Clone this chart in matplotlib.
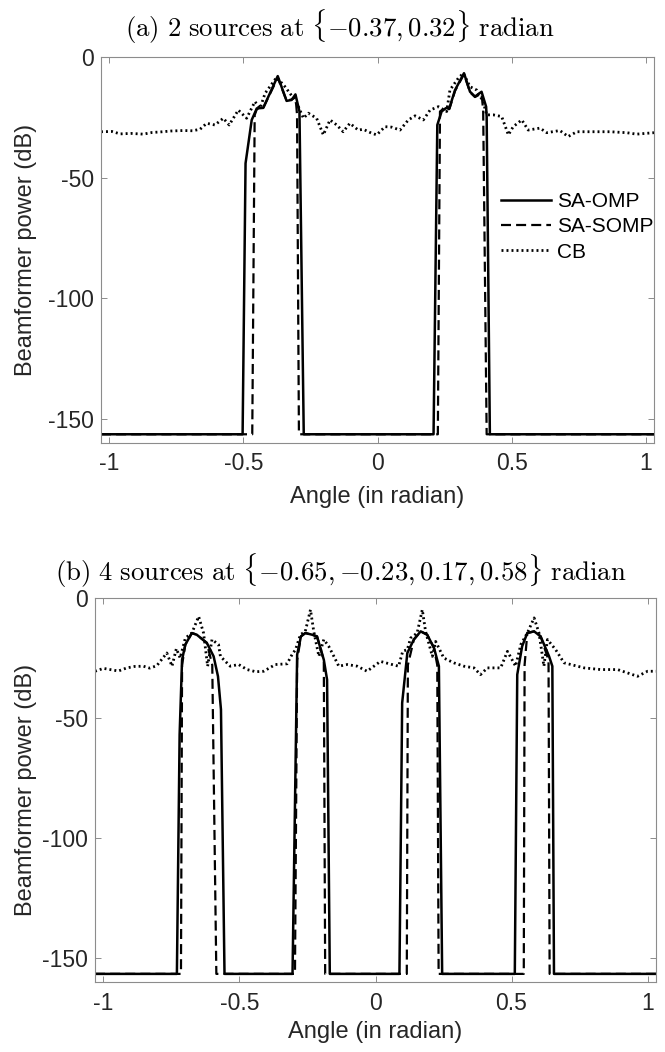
import numpy as np
import matplotlib
matplotlib.use("Agg")
import matplotlib.pyplot as plt

plt.rcParams["font.family"] = ["Liberation Sans", "DejaVu Sans"]
plt.rcParams["axes.unicode_minus"] = False
plt.rcParams["mathtext.fontset"] = "cm"

# ---------------- data: (a) 2 sources ----------------
a_omp_x = [-1.031, -0.503, -0.492, -0.469, -0.45, -0.426, -0.372, -0.339, -0.32, -0.306,
           -0.291, -0.275, 0.209, 0.223, 0.239, 0.255, 0.268, 0.289, 0.3225, 0.345,
           0.3635, 0.388, 0.405, 0.407, 0.419, 1.031]
a_omp_db = [-156.5, -156.5, -44, -26, -21.2, -21, -7.8, -18.1, -17.7, -15.4,
            -22.5, -156.5, -156.5, -28.1, -22.5, -21.1, -21.1, -13.6, -6.6, -14.3,
            -16.3, -14.3, -20.5, -24.6, -156.5, -156.5]

a_somp_x = [-1.031, -0.467, -0.458, -0.45, -0.426, -0.372, -0.339, -0.32, -0.306, -0.300,
            -0.293, 0.225, 0.233, 0.239, 0.255, 0.268, 0.289, 0.3225, 0.345, 0.3635,
            0.388, 0.394, 0.407, 1.031]
a_somp_db = [-156.5, -156.5, -24, -21.5, -21, -8.5, -18, -17.5, -16, -23.9,
             -156.5, -156.5, -22.5, -22, -21.5, -21.5, -14, -7, -14.5, -16.5,
             -15, -22, -156.5, -156.5]

a_cb_x = [-1.031, -0.99, -0.96, -0.92, -0.873, -0.84, -0.811, -0.77, -0.724, -0.69,
          -0.662, -0.637, -0.606, -0.575, -0.553, -0.519, -0.488, -0.457, -0.438, -0.419,
          -0.376, -0.345, -0.313, -0.295, -0.276, -0.258, -0.227, -0.202, -0.177, -0.152,
          -0.128, -0.103, -0.072, -0.053, -0.022, -0.003, 0.028, 0.053, 0.084, 0.115,
          0.14, 0.171, 0.196, 0.227, 0.258, 0.27, 0.301, 0.32, 0.345, 0.37,
          0.394, 0.407, 0.432, 0.463, 0.488, 0.506, 0.538, 0.562, 0.606, 0.631,
          0.68, 0.711, 0.743, 0.805, 0.867, 0.929, 0.966, 1.031]
a_cb_db = [-30.9, -30.8, -31.8, -31.6, -31.9, -31.2, -31, -30.6, -30.4, -30.5,
           -29.9, -27.4, -28.1, -25.3, -28.1, -21.9, -25.3, -18.4, -21.2, -14.9,
           -8.3, -12.2, -17, -20.5, -25.3, -23.2, -25.3, -32.2, -26, -28.1,
           -30.9, -27.4, -30.2, -29.9, -31.5, -32.2, -28.8, -29, -30.2, -26,
           -24.3, -26, -21.9, -20.5, -22.5, -13.6, -8.7, -6.6, -12.2, -13.6,
           -18.4, -23.9, -23.9, -24.6, -32.2, -28.8, -26, -30.2, -29.4, -31.3,
           -30.4, -32.9, -30.9, -30.9, -30.9, -31.3, -31.9, -31.3]

# ---------------- data: (b) 4 sources ----------------
b_omp_x = [-1.031, -0.73, -0.72, -0.711, -0.699, -0.675, -0.657, -0.62, -0.595, -0.579,
           -0.568, -0.555, -0.305, -0.288, -0.274, -0.258, -0.233, -0.215, -0.19, -0.178,
           -0.168, 0.088, 0.098, 0.117, 0.141, 0.166, 0.19, 0.215, 0.233, 0.245,
           0.512, 0.521, 0.539, 0.558, 0.583, 0.607, 0.638, 0.65, 0.656, 1.031]
b_omp_db = [-156.5, -156.5, -57, -25.8, -19.5, -14.7, -15.4, -18.8, -24.4, -32.7,
            -46.5, -156.5, -156.5, -23.7, -16.1, -14.7, -15.4, -16.1, -25.8, -34.1,
            -156.5, -156.5, -43.8, -23, -17.4, -14, -15.4, -20.9, -28.5, -156.5,
            -156.5, -32, -20.2, -14.7, -14, -16.1, -24.4, -28.5, -156.5, -156.5]

b_somp_x = [-1.031, -0.715, -0.711, -0.699, -0.675, -0.657, -0.62, -0.60, -0.585, -0.296,
            -0.288, -0.274, -0.258, -0.233, -0.215, -0.19, -0.185, 0.115, 0.119, 0.141,
            0.166, 0.19, 0.215, 0.227, 0.232, 0.545, 0.548, 0.558, 0.583, 0.607,
            0.636, 0.64, 1.031]
b_somp_db = [-156.5, -156.5, -28, -19.5, -14.7, -15.4, -18.8, -28, -156.5, -156.5,
             -26, -16.1, -14.7, -15.4, -16.1, -26, -156.5, -156.5, -28, -17.4,
             -14, -15.4, -20.9, -28, -156.5, -156.5, -28, -14.7, -14, -16.1,
             -26, -156.5, -156.5]

b_cb_x = [-1.031, -1.0, -0.975, -0.945, -0.914, -0.885, -0.853, -0.83, -0.804, -0.767,
          -0.748, -0.732, -0.718, -0.699, -0.675, -0.65, -0.632, -0.617, -0.601, -0.577,
          -0.57, -0.534, -0.503, -0.472, -0.44, -0.411, -0.368, -0.325, -0.307, -0.294,
          -0.276, -0.258, -0.239, -0.227, -0.208, -0.19, -0.172, -0.153, -0.135, -0.104,
          -0.067, -0.031, 0.018, 0.061, 0.085, 0.10, 0.117, 0.129, 0.153, 0.172,
          0.184, 0.209, 0.221, 0.251, 0.288, 0.325, 0.362, 0.386, 0.411, 0.46,
          0.485, 0.515, 0.534, 0.558, 0.583, 0.601, 0.619, 0.632, 0.662, 0.693,
          0.767, 0.828, 0.89, 0.963, 1.0, 1.031]
b_cb_db = [-30.6, -29.4, -29.9, -30.5, -29.2, -28.6, -28.5, -29.3, -28.3, -23,
           -28.5, -21.2, -25.1, -16.8, -14.7, -7.8, -14.7, -28.5, -17.4, -19.5,
           -24.4, -28.5, -27.8, -29.9, -30.8, -30.6, -27.8, -27.5, -23.7, -21.6,
           -15.4, -14, -5, -14, -24.4, -17.4, -20.2, -24.4, -28.5, -27.8,
           -28.5, -30.6, -26.5, -27.8, -28.5, -22.3, -21.6, -16.8, -14.7, -5,
           -14, -24.4, -18.2, -25.1, -27.1, -28.5, -29.2, -32, -29.2, -29.2,
           -22.3, -28.5, -19.5, -14.7, -8.4, -14.7, -28.5, -17.4, -21.6, -27.1,
           -29.2, -29.9, -29.9, -32.7, -30.6, -30.6]

titles = [r"$\mathrm{(a)\ 2\ sources\ at\ }\{{-}0.37, 0.32\}\mathrm{\ radian}$",
          r"$\mathrm{(b)\ 4\ sources\ at\ }\{{-}0.65, {-}0.23, 0.17, 0.58\}\mathrm{\ radian}$"]
xticks = [-1, -0.5, 0, 0.5, 1]
xticklabels = ["-1", "-0.5", "0", "0.5", "1"]
yticks = [-150, -100, -50, 0]
yticklabels = ["-150", "-100", "-50", "0"]

W, H = 665, 1052
fig = plt.figure(figsize=(W / 100, H / 100), dpi=100)
ax_a = fig.add_axes([101 / W, 1 - 442.7 / H, 553 / W, 385.4 / H])
ax_b = fig.add_axes([95 / W, 1 - 982.3 / H, 561 / W, 384.6 / H])

panels = [
    (ax_a, a_omp_x, a_omp_db, a_somp_x, a_somp_db, a_cb_x, a_cb_db),
    (ax_b, b_omp_x, b_omp_db, b_somp_x, b_somp_db, b_cb_x, b_cb_db),
]

for i, (ax, ox, oy, sx, sy, cx, cy) in enumerate(panels):
    ax.plot(cx, cy, color="black", lw=2.0, linestyle=(0, (0.7, 1.1)), label="CB")
    ax.plot(sx, sy, color="black", lw=1.6, linestyle=(0, (4.5, 2.3)), label="SA-SOMP")
    ax.plot(ox, oy, color="black", lw=1.8, linestyle="-", label="SA-OMP")
    ax.set_xlim(-1.031, 1.031)
    ax.set_ylim(-160, 0)
    ax.set_xticks(xticks)
    ax.set_xticklabels(xticklabels)
    ax.set_yticks(yticks)
    ax.set_yticklabels(yticklabels)
    ax.tick_params(direction="in", length=4.5, width=0.7, color="#8c8c8c",
                   labelsize=16.5, labelcolor="#262626", top=True, right=True)
    ax.tick_params(axis="x", pad=7)
    ax.tick_params(axis="y", pad=5)
    for sp in ax.spines.values():
        sp.set_color("#8c8c8c")
        sp.set_linewidth(0.8)
    ax.set_xlabel("Angle (in radian)", fontsize=17, color="#262626", va="center")
    ax.set_ylabel("Beamformer power (dB)", fontsize=17, color="#262626", va="center")

ax_a.xaxis.set_label_coords(0.5, -0.141)
ax_b.xaxis.set_label_coords(0.5, -0.129)
ax_a.yaxis.set_label_coords((26 - 101) / 553, 0.5)
ax_b.yaxis.set_label_coords((26 - 95) / 561, 0.5)

handles, labels = ax_a.get_legend_handles_labels()
order = [2, 1, 0]
ax_a.legend([handles[k] for k in order], [labels[k] for k in order],
            loc="upper right", bbox_to_anchor=(1.0, 0.65), frameon=False,
            fontsize=15, handlelength=2.4, handletextpad=0.3, labelspacing=0.3,
            borderpad=0, borderaxespad=0)

fig.text(340 / W, 1 - 27 / H, titles[0], ha="center", va="center", fontsize=19.3)
fig.text(341 / W, 1 - 571 / H, titles[1], ha="center", va="center", fontsize=19.3)

fig.savefig("out.png", dpi=100)
